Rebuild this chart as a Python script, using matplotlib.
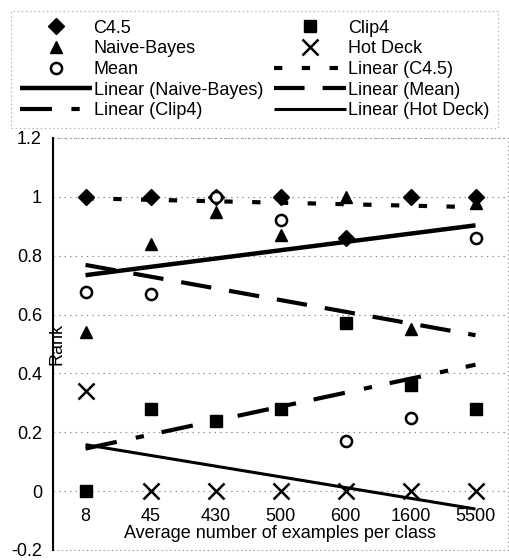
import numpy as np
import matplotlib
matplotlib.use("Agg")
import matplotlib.pyplot as plt
from matplotlib.patches import Rectangle

plt.rcParams['font.family'] = ['Liberation Sans', 'DejaVu Sans']
plt.rcParams['lines.scale_dashes'] = False

categories = ["8", "45", "430", "500", "600", "1600", "5500"]
c45 = [1.0, 1.0, 1.0, 1.0, 0.86, 1.0, 1.0]
clip4 = [0.0, 0.28, 0.24, 0.28, 0.57, 0.36, 0.28]
naive_bayes = [0.54, 0.84, 0.95, 0.87, 1.0, 0.55, 0.98]
hot_deck = [0.34, 0.0, 0.0, 0.0, 0.0, 0.0, 0.0]
mean_imp = [0.675, 0.67, 1.0, 0.92, 0.17, 0.25, 0.86]

x = np.arange(1, len(categories) + 1)

fig = plt.figure(figsize=(5.09, 5.6), dpi=100)
ax = fig.add_axes([53 / 509, 10 / 560, (508 - 53) / 509, (550 - 138) / 560])

# category axis crosses the value axis at zero
for s in ['top', 'right']:
    ax.spines[s].set_visible(False)
ax.spines['bottom'].set_position(('data', 0))
ax.spines['bottom'].set_color('none')
ax.spines['left'].set_linewidth(1.5)

# horizontal dotted gridlines
for yv in np.arange(-0.2, 1.21, 0.2):
    ax.axhline(yv, color='#888888', lw=0.8, ls=(0, (1, 3)), zorder=0)

fs = 13
# scatter series
h_c45, = ax.plot(x, c45, 'D', color='black', ms=8, ls='none', label='C4.5', zorder=4)
h_nb, = ax.plot(x, naive_bayes, '^', color='black', ms=9, ls='none', label='Naive-Bayes', zorder=4)
h_mean, = ax.plot(x, mean_imp, 'o', mfc='white', mec='black', mew=1.8, ms=8, ls='none', label='Mean', zorder=5)
h_clip, = ax.plot(x, clip4, 's', color='black', ms=8, ls='none', label='Clip4', zorder=4)
h_hd, = ax.plot(x, hot_deck, 'x', color='black', ms=12, mew=1.8, ls='none', label='Hot Deck', zorder=4)

# linear trend lines
def trend(vals):
    k, b = np.polyfit(x, vals, 1)
    return k * x + b

styles = {
    'C4.5': dict(lw=3, dashes=(6, 14)),
    'Naive-Bayes': dict(lw=3.2, ls='-'),
    'Mean': dict(lw=3, dashes=(22, 13)),
    'Clip4': dict(lw=3, dashes=(23, 14, 6, 13)),
    'Hot Deck': dict(lw=2.2, ls='-'),
}
series = {'C4.5': c45, 'Naive-Bayes': naive_bayes, 'Mean': mean_imp,
          'Clip4': clip4, 'Hot Deck': hot_deck}
lin = {}
for name, vals in series.items():
    h, = ax.plot(x, trend(vals), color='black', label=f'Linear ({name})',
                 solid_capstyle='butt', dash_capstyle='butt', zorder=3, **styles[name])
    lin[name] = h

ax.set_xlim(0.5, 7.5)
ax.set_ylim(-0.2, 1.2)
ax.set_yticks(np.round(np.arange(-0.2, 1.21, 0.2), 1))
ax.set_yticklabels(['-0.2', '0', '0.2', '0.4', '0.6', '0.8', '1', '1.2'], fontsize=fs)
ax.set_xticks(x)
ax.set_xticklabels(categories, fontsize=fs)
ax.tick_params(axis='y', length=0, pad=8)
ax.tick_params(axis='x', length=0, pad=12)

ax.add_patch(Rectangle((0, 0), 1, 1, transform=ax.transAxes, fill=False,
                       ec='#999999', lw=0.8, ls=(0, (1, 2)), clip_on=False))

ax.set_xlabel('Average number of examples per class', fontsize=fs, labelpad=0)
ax.set_ylabel('Rank', fontsize=fs)
ax.yaxis.set_label_coords(0.028, 0.5)

handles = [h_c45, h_nb, h_mean, lin['Naive-Bayes'], lin['Clip4'],
           h_clip, h_hd, lin['C4.5'], lin['Mean'], lin['Hot Deck']]
leg = fig.legend(handles=handles, labels=[h.get_label() for h in handles],
                 loc='upper left', bbox_to_anchor=(0.003, 0.772, 0.994, 0.225),
                 mode='expand', ncol=2, fontsize=fs, frameon=True, fancybox=False,
                 handlelength=4.0, handletextpad=0.1, labelspacing=0.2,
                 borderpad=0.5, columnspacing=1.0)
leg.get_frame().set_edgecolor('#999999')
leg.get_frame().set_linestyle((0, (1, 2)))
leg.get_frame().set_linewidth(0.8)

fig.savefig('out.png', dpi=100)
